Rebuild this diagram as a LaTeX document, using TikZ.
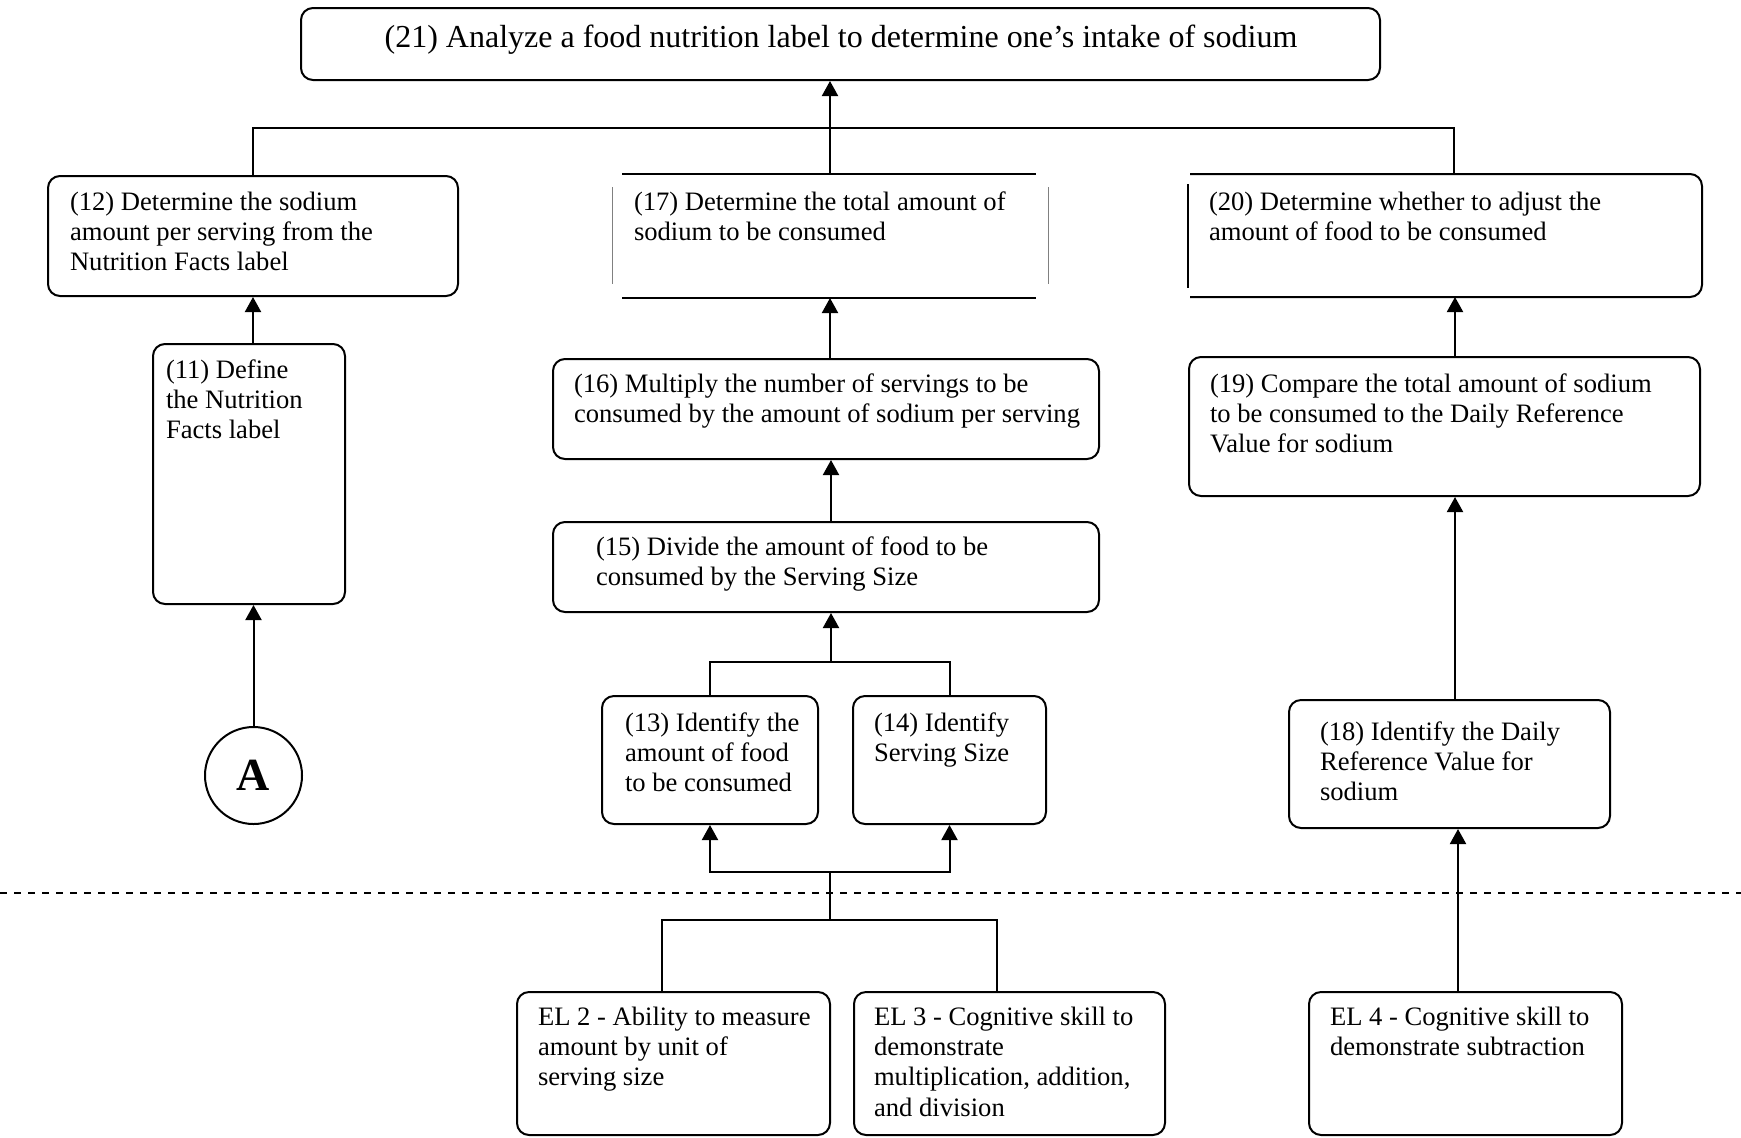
\documentclass[tikz,border=0pt]{standalone}
\usepackage{fontspec}
\setmainfont{Liberation Serif}
\usetikzlibrary{arrows.meta,fit,calc}
\begin{document}
\begin{tikzpicture}[x=0.5pt,y=-0.5pt,line width=1pt,
  box/.style={draw, rounded corners=6pt, inner sep=0pt},
  frame/.style={inner sep=0pt},
  txt/.style={inner sep=0pt, anchor=base west, font=\fontsize{13.3}{15.2}\selectfont},
  arr/.style={-{Triangle[length=7.5pt,width=8pt]}},
  thinside/.style={line width=0.5pt, gray}
]
\useasboundingbox (0,0) rectangle (1741,1137);

% top goal
\node[box, fit={(301,8)(1380,80)}] (b21) {};
\node[txt, anchor=base, font=\fontsize{16}{19}\selectfont] (t21) at (841,47) {(21) Analyze a food nutrition label to determine one’s intake of sodium};

% left column
\node[box, fit={(48,176)(458,296)}] (b12) {};
\node[txt] (t12) at (69,210) {\begin{tabular}[t]{@{}l@{}}(12) Determine the sodium\\amount per serving from the\\Nutrition Facts label\end{tabular}};
\node[box, fit={(153,344)(345,604)}] (b11) {};
\node[txt] (t11) at (165,378) {\begin{tabular}[t]{@{}l@{}}(11) Define\\the Nutrition\\Facts label\end{tabular}};
\node[draw, circle, minimum size=48.5pt, inner sep=0pt, font=\fontsize{23}{27}\selectfont\bfseries] (A) at (253.5,775.5) {A};

% middle column
\node[frame, fit={(613,175)(1047,297)}] (b17) {};
\draw ($(b17.north west)+(10,0)$) -- ($(b17.north east)+(-12,0)$);
\draw ($(b17.south west)+(10,0)$) -- ($(b17.south east)+(-12,0)$);
\draw[thinside] ($(b17.north west)+(0,13)$) -- ($(b17.south west)+(0,-14)$);
\draw[thinside] ($(b17.north east)+(0,13)$) -- ($(b17.south east)+(0,-14)$);
\node[txt] (t17) at (633,210) {\begin{tabular}[t]{@{}l@{}}(17) Determine the total amount of\\sodium to be consumed\end{tabular}};

\node[box, fit={(553,359)(1099,459)}] (b16) {};
\node[txt] (t16) at (573,392) {\begin{tabular}[t]{@{}l@{}}(16) Multiply the number of servings to be\\consumed by the amount of sodium per serving\end{tabular}};
\node[box, fit={(553,522)(1099,612)}] (b15) {};
\node[txt] (t15) at (595,555) {\begin{tabular}[t]{@{}l@{}}(15) Divide the amount of food to be\\consumed by the Serving Size\end{tabular}};
\node[box, fit={(602,696)(818,824)}] (b13) {};
\node[txt] (t13) at (624,731) {\begin{tabular}[t]{@{}l@{}}(13) Identify the\\amount of food\\to be consumed\end{tabular}};
\node[box, fit={(853,696)(1046,824)}] (b14) {};
\node[txt] (t14) at (873,731) {\begin{tabular}[t]{@{}l@{}}(14) Identify\\Serving Size\end{tabular}};

% right column
\node[frame, fit={(1189,175)(1701,296)}] (b20) {};
\draw[rounded corners=6pt] ($(b20.north west)+(2,0)$) -- (b20.north east) -- (b20.south east) -- ($(b20.south west)+(2,0)$);
\draw[line width=0.6pt] ($(b20.north west)+(0,10)$) -- ($(b20.south west)+(0,-9)$);
\node[txt] (t20) at (1208,210) {\begin{tabular}[t]{@{}l@{}}(20) Determine whether to adjust the\\amount of food to be consumed\end{tabular}};
\node[box, fit={(1189,357)(1700,496)}] (b19) {};
\node[txt] (t19) at (1209,392) {\begin{tabular}[t]{@{}l@{}}(19) Compare the total amount of sodium\\to be consumed to the Daily Reference\\Value for sodium\end{tabular}};
\node[box, fit={(1289,700)(1610,828)}] (b18) {};
\node[txt] (t18) at (1319,740) {\begin{tabular}[t]{@{}l@{}}(18) Identify the Daily\\Reference Value for\\sodium\end{tabular}};

% entry-level boxes
\node[box, fit={(517,992)(830,1135)}] (el2) {};
\node[txt] (tel2) at (537,1025) {\begin{tabular}[t]{@{}l@{}}EL 2 - Ability to measure\\amount by unit of\\serving size\end{tabular}};
\node[box, fit={(854,992)(1165,1135)}] (el3) {};
\node[txt] (tel3) at (873,1025) {\begin{tabular}[t]{@{}l@{}}EL 3 - Cognitive skill to\\demonstrate\\multiplication, addition,\\and division\end{tabular}};
\node[box, fit={(1309,992)(1622,1135)}] (el4) {};
\node[txt] (tel4) at (1329,1025) {\begin{tabular}[t]{@{}l@{}}EL 4 - Cognitive skill to\\demonstrate subtraction\end{tabular}};

% dashed separator
\coordinate (dl) at (0,893);
\coordinate (dr) at (1741,893);
\draw[dash pattern=on 3.5pt off 3.5pt] (dl) -- (dr);

% helper coordinates
\coordinate (barL) at (253,128);
\coordinate (barR) at (1454,128);
\coordinate (j1) at (831,662);
\coordinate (j2) at (830,872);
\coordinate (j3) at (830,920);
\coordinate (x2) at (662,0);
\coordinate (x3) at (997,0);
\coordinate (xR) at (1455,0);
\coordinate (xR2) at (1458,0);

% connectors
\draw (b12.north) -- (b12.north |- barL) -- (barR) -- (barR |- b20.north);
\draw[arr] (b17.north) -- (b17.north |- b21.south);
\draw[arr] (b12.south |- b11.north) -- (b12.south);
\draw[arr] (A.north) -- (A.north |- b11.south);
\draw[arr] (b16.north -| b17.south) -- (b17.south);
\draw[arr] (b15.north -| j1) -- (b16.south -| j1);
\draw (b13.north) -- (b13.north |- j1) -- (b14.north |- j1) -- (b14.north);
\draw[arr] (j1) -- (j1 |- b15.south);
\draw[arr] (j2) -| (b13.south);
\draw[arr] (j2) -| (b14.south);
\draw (j2) -- (j3);
\draw (el2.north -| x2) -- (j3 -| x2) -- (j3 -| x3) -- (el3.north -| x3);
\draw[arr] (b19.north -| xR) -- (b20.south -| xR);
\draw[arr] (b18.north -| xR) -- (b19.south -| xR);
\draw[arr] (el4.north -| xR2) -- (b18.south -| xR2);
\end{tikzpicture}
\end{document}
